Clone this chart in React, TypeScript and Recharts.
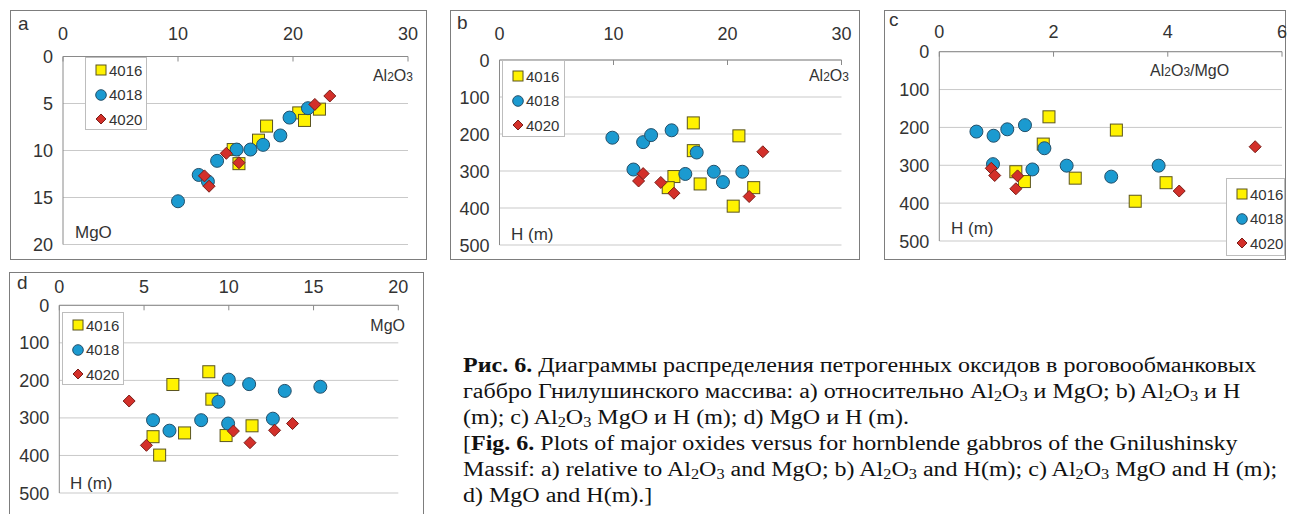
import React from "react";
import { ScatterChart, Scatter, XAxis, YAxis, CartesianGrid } from "recharts";

/* ─── Data ─── */

const SERIES_NAMES = ["4016", "4018", "4020"];

// a) Al2O3 (x) vs MgO (y)
const A_AL_4016 = [14.8, 15.3, 17.0, 17.7, 20.5, 21.0, 22.3];
const A_MG_4016 = [9.9, 11.4, 8.9, 7.4, 6.0, 6.8, 5.6];
const A_AL_4018 = [10.0, 11.8, 12.6, 13.4, 15.1, 16.3, 17.4, 18.9, 19.7, 21.3];
const A_MG_4018 = [15.4, 12.6, 13.3, 11.1, 9.9, 9.9, 9.4, 8.4, 6.5, 5.5];
const A_AL_4020 = [12.3, 12.7, 14.2, 15.3, 21.9, 23.2];
const A_MG_4020 = [12.7, 13.8, 10.3, 11.3, 5.1, 4.2];

// b) Al2O3 (x) vs H, m (y)
const B_AL_4016 = [17.0, 21.0, 17.0, 15.3, 14.8, 17.6, 22.3, 20.5];
const B_H_4016 = [170, 205, 245, 315, 345, 335, 345, 395];
const B_AL_4018 = [9.9, 12.6, 13.3, 15.1, 17.3, 11.75, 16.3, 18.8, 19.6, 21.3];
const B_H_4018 = [210, 222, 203, 190, 250, 296, 308, 302, 330, 302];
const B_AL_4020 = [12.2, 12.6, 14.15, 15.3, 23.1, 21.9];
const B_H_4020 = [327, 307, 331, 360, 248, 369];

// c) Al2O3/MgO (x) vs H, m (y)
const C_R_4016 = [1.92, 3.1, 1.82, 1.34, 1.49, 2.38, 3.97, 3.43];
const C_H_4016 = [172, 207, 244, 317, 343, 334, 346, 395];
const C_R_4018 = [0.65, 0.95, 1.19, 1.5, 1.84, 0.94, 1.63, 2.23, 3.01, 3.84];
const C_H_4018 = [211, 222, 205, 194, 255, 297, 311, 301, 330, 301];
const C_R_4020 = [0.91, 0.97, 1.37, 1.34, 4.2, 5.53];
const C_H_4020 = [308, 327, 328, 362, 368, 251];

// d) MgO (x) vs H, m (y)
const D_MG_4016 = [8.82, 6.7, 9.0, 5.53, 7.39, 5.92, 9.84, 11.37];
const D_H_4016 = [177, 211, 250, 350, 340, 399, 347, 321];
const D_MG_4018 = [10.0, 11.2, 13.3, 15.4, 9.39, 5.53, 6.5, 8.37, 9.96, 12.6];
const D_H_4018 = [198, 210, 228, 217, 257, 306, 334, 306, 315, 302];
const D_MG_4020 = [4.12, 5.14, 10.27, 11.25, 12.7, 13.76];
const D_H_4020 = [255, 373, 335, 366, 333, 315];

const TICKS_30 = [0, 10, 20, 30];
const TICKS_20 = [0, 5, 10, 15, 20];
const TICKS_6 = [0, 2, 4, 6];
const TICKS_H = [0, 100, 200, 300, 400, 500];

/* ─── Styling ─── */

const SANS = '"Liberation Sans", Arial, sans-serif';
const SERIF = '"Liberation Serif", "Times New Roman", serif';
const AXIS = "#8a8a8a";
const GRID = "#c9c9c9";
const TEXT = "#333";
const BORDER = "#7d7d7d";

const YEL = "#fff200";
const YEL_S = "#5b5520";
const BLUE = "#1b9ad0";
const BLUE_S = "#24506a";
const RED = "#d3302a";
const RED_S = "#7a1d18";

type Pt = { x: number; y: number };
type Rect = { l: number; t: number; r: number; b: number };

const zip = (xs: number[], ys: number[]): Pt[] => xs.map((x, i) => ({ x, y: ys[i] }));

/* ─── Markers ─── */

const Square = (p: any) => (
  <rect x={p.cx - 6} y={p.cy - 6} width={12} height={12} fill={YEL} stroke={YEL_S} strokeWidth={1} />
);
const Dot = (p: any) => <circle cx={p.cx} cy={p.cy} r={6.5} fill={BLUE} stroke={BLUE_S} strokeWidth={1} />;
const Diamond = (p: any) => (
  <polygon
    points={`${p.cx},${p.cy - 6} ${p.cx + 6},${p.cy} ${p.cx},${p.cy + 6} ${p.cx - 6},${p.cy}`}
    fill={RED}
    stroke={RED_S}
    strokeWidth={1}
  />
);
const SHAPES = [Square, Dot, Diamond];

function LegendMark({ i }: { i: number }) {
  return (
    <svg width={12} height={12} style={{ display: "block" }}>
      {i === 0 && <rect x={1} y={1} width={10} height={10} fill={YEL} stroke={YEL_S} />}
      {i === 1 && <circle cx={6} cy={6} r={5.3} fill={BLUE} stroke={BLUE_S} />}
      {i === 2 && <polygon points="6,1 11,6 6,11 1,6" fill={RED} stroke={RED_S} />}
    </svg>
  );
}

/* ─── One panel ─── */

interface PanelProps {
  box: Rect;
  plot: Rect;
  xDomain: [number, number];
  xTicks: number[];
  yDomain: [number, number];
  yTicks: number[];
  xGap: number;
  series: Pt[][];
  legend: Rect & { first: number };
  letter: string;
  letterPos: [number, number];
  children?: React.ReactNode;
}

// extra room on the right so the last top tick label is not clipped by the svg
const PAD_R = 20;

function Panel({ box, plot, xDomain, xTicks, yDomain, yTicks, xGap, series, legend, letter, letterPos, children }: PanelProps) {
  const w = box.r - box.l;
  const h = box.b - box.t;
  const pl = plot.l - box.l;
  const pt = plot.t - box.t;
  const X_H = 30;

  const XTick = (props: any) => (
    <g>
      <line x1={props.x} x2={props.x} y1={pt} y2={pt + 5} stroke={AXIS} />
      <text x={props.x} y={pt - xGap} textAnchor="middle" fontSize={18} fontFamily={SANS} fill={TEXT}>
        {props.payload.value}
      </text>
    </g>
  );
  const YTick = (props: any) => (
    <text x={pl - 10} y={props.y + 6.5} textAnchor="end" fontSize={18} fontFamily={SANS} fill={TEXT}>
      {props.payload.value}
    </text>
  );

  return (
    <>
      <div
        style={{
          position: "absolute",
          left: box.l,
          top: box.t,
          width: w - 2,
          height: h - 2,
          border: `1px solid ${BORDER}`,
        }}
      />
      <div style={{ position: "absolute", left: box.l, top: box.t }}>
        <ScatterChart
          width={w + PAD_R}
          height={h}
          margin={{ top: pt - X_H, left: 0, right: box.r - plot.r + PAD_R, bottom: box.b - plot.b }}
        >
          <CartesianGrid vertical={false} stroke={GRID} />
          <XAxis
            type="number"
            dataKey="x"
            orientation="top"
            height={X_H}
            domain={xDomain}
            ticks={xTicks}
            interval={0}
            axisLine={{ stroke: AXIS }}
            tickLine={false}
            tick={XTick}
          />
          <YAxis
            type="number"
            dataKey="y"
            width={pl}
            domain={yDomain}
            ticks={yTicks}
            interval={0}
            reversed
            axisLine={{ stroke: AXIS }}
            tickLine={false}
            tick={YTick}
          />
          {series.map((data, i) => (
            <Scatter key={SERIES_NAMES[i]} name={SERIES_NAMES[i]} data={data} shape={SHAPES[i]} isAnimationActive={false} />
          ))}
        </ScatterChart>
      </div>
      {/* Legend */}
      <div
        style={{
          position: "absolute",
          left: legend.l,
          top: legend.t,
          width: legend.r - legend.l - 2,
          height: legend.b - legend.t - 2,
          border: "1px solid #bdbdbd",
          background: "white",
        }}
      >
        {SERIES_NAMES.map((name, i) => (
          <div
            key={name}
            style={{
              position: "absolute",
              left: 9,
              top: legend.first + i * 24.5 - 9,
              height: 18,
              display: "flex",
              alignItems: "center",
              gap: 2,
              font: `15px ${SANS}`,
              color: TEXT,
            }}
          >
            <LegendMark i={i} />
            <span>{name}</span>
          </div>
        ))}
      </div>
      <div
        style={{
          position: "absolute",
          left: letterPos[0],
          top: letterPos[1],
          font: `19px ${SANS}`,
          color: TEXT,
          lineHeight: "20px",
        }}
      >
        {letter}
      </div>
      {children}
    </>
  );
}

function Label({ x, y, right, size = 16, children }: { x: number; y: number; right?: boolean; size?: number; children: React.ReactNode }) {
  return (
    <div
      style={{
        position: "absolute",
        top: y - 10,
        height: 20,
        lineHeight: "20px",
        ...(right ? { right: 1290 - x } : { left: x }),
        font: `${size}px ${SANS}`,
        color: TEXT,
        whiteSpace: "nowrap",
      }}
    >
      {children}
    </div>
  );
}

const Al2O3 = () => (
  <>
    Al<span style={{ fontSize: "0.75em" }}>2</span>O<span style={{ fontSize: "0.75em" }}>3</span>
  </>
);

const Sub = ({ children }: { children: React.ReactNode }) => (
  <sub style={{ fontSize: "0.68em", verticalAlign: "-0.22em", lineHeight: 0 }}>{children}</sub>
);
const AlOx = () => (
  <>
    Al<Sub>2</Sub>O<Sub>3</Sub>
  </>
);

export default function App() {
  return (
    <div
      style={{
        position: "absolute",
        left: 0,
        top: 0,
        width: 1290,
        height: 514,
        background: "white",
        overflow: "hidden",
      }}
    >
      <Panel
        box={{ l: 10, t: 10, r: 427, b: 260 }}
        plot={{ l: 63, t: 56.5, r: 408, b: 244.5 }}
        xDomain={[0, 30]}
        xTicks={TICKS_30}
        yDomain={[0, 20]}
        yTicks={TICKS_20}
        xGap={17}
        series={[zip(A_AL_4016, A_MG_4016), zip(A_AL_4018, A_MG_4018), zip(A_AL_4020, A_MG_4020)]}
        legend={{ l: 85, t: 57, r: 147, b: 130, first: 12 }}
        letter="a"
        letterPos={[18, 14]}
      >
        <Label x={413} y={77} right>
          <Al2O3 />
        </Label>
        <Label x={75} y={233} size={17}>
          MgO
        </Label>
      </Panel>

      <Panel
        box={{ l: 450, t: 10, r: 860, b: 260 }}
        plot={{ l: 499.5, t: 60, r: 841.5, b: 245 }}
        xDomain={[0, 30]}
        xTicks={TICKS_30}
        yDomain={[0, 500]}
        yTicks={TICKS_H}
        xGap={20}
        series={[zip(B_AL_4016, B_H_4016), zip(B_AL_4018, B_H_4018), zip(B_AL_4020, B_H_4020)]}
        legend={{ l: 502, t: 60, r: 565, b: 137, first: 15 }}
        letter="b"
        letterPos={[457, 13]}
      >
        <Label x={849} y={77} right>
          <Al2O3 />
        </Label>
        <Label x={511} y={235} size={17}>
          H (m)
        </Label>
      </Panel>

      <Panel
        box={{ l: 884, t: 10, r: 1286, b: 260 }}
        plot={{ l: 939.3, t: 51.7, r: 1282, b: 241 }}
        xDomain={[0, 6]}
        xTicks={TICKS_6}
        yDomain={[0, 500]}
        yTicks={TICKS_H}
        xGap={13.5}
        series={[zip(C_R_4016, C_H_4016), zip(C_R_4018, C_H_4018), zip(C_R_4020, C_H_4020)]}
        legend={{ l: 1226, t: 178, r: 1285, b: 256, first: 15 }}
        letter="c"
        letterPos={[889, 10]}
      >
        <Label x={1150} y={72}>
          <Al2O3 />
          /MgO
        </Label>
        <Label x={951} y={229} size={17}>
          H (m)
        </Label>
      </Panel>

      <Panel
        box={{ l: 9, t: 272, r: 424, b: 530 }}
        plot={{ l: 59.3, t: 305.3, r: 398.3, b: 493 }}
        xDomain={[0, 20]}
        xTicks={TICKS_20}
        yDomain={[0, 500]}
        yTicks={TICKS_H}
        xGap={12}
        series={[zip(D_MG_4016, D_H_4016), zip(D_MG_4018, D_H_4018), zip(D_MG_4020, D_H_4020)]}
        legend={{ l: 62, t: 312, r: 124, b: 385, first: 12 }}
        letter="d"
        letterPos={[17, 273]}
      >
        <Label x={405} y={327} right>
          MgO
        </Label>
        <Label x={70} y={484} size={17}>
          H (m)
        </Label>
      </Panel>

      {/* Caption */}
      <div
        style={{
          position: "absolute",
          left: 463,
          top: 352,
          font: `20px ${SERIF}`,
          lineHeight: "26px",
          color: "#111",
          whiteSpace: "nowrap",
          transform: "scaleX(1.2)",
          transformOrigin: "0 0",
        }}
      >
        <b>Рис. 6.</b> Диаграммы распределения петрогенных оксидов в роговообманковых
        <br />
        габбро Гнилушинского массива: a) относительно <AlOx /> и MgO; b) <AlOx /> и H
        <br />
        (m); c) <AlOx /> MgO и H (m); d) MgO и H (m).
        <br />[<b>Fig. 6.</b> Plots of major oxides versus for hornblende gabbros of the Gnilushinsky
        <br />
        Massif: a) relative to <AlOx /> and MgO; b) <AlOx /> and H(m); c) <AlOx /> MgO and H (m);
        <br />
        d) MgO and H(m).]
      </div>
    </div>
  );
}
